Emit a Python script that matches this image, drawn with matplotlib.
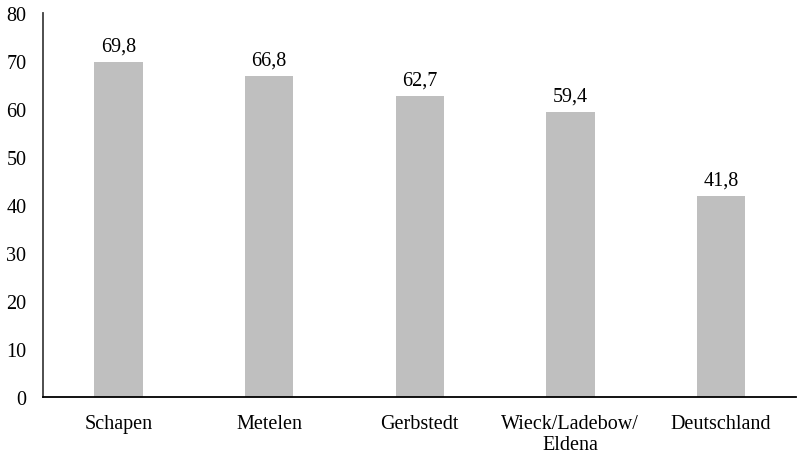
import matplotlib.pyplot as plt

plt.rcParams["font.family"] = ["Liberation Serif", "DejaVu Serif"]

categories = ["Schapen", "Metelen", "Gerbstedt", "Wieck/Ladebow/\nEldena", "Deutschland"]
values = [69.8, 66.8, 62.7, 59.4, 41.8]
value_labels = ["69,8", "66,8", "62,7", "59,4", "41,8"]
yticks = [0, 10, 20, 30, 40, 50, 60, 70, 80]

fig = plt.figure(figsize=(7.98, 4.56), dpi=100)
ax = fig.add_axes([0.054, 0.127, 0.944, 0.842])

x = range(len(categories))
bars = ax.bar(x, values, width=0.32, color="#BFBFBF")
for b, lab in zip(bars, value_labels):
    ax.annotate(lab, (b.get_x() + b.get_width() / 2, b.get_height()),
                xytext=(0, 5), textcoords="offset points",
                ha="center", va="bottom", fontsize=14.5)

ax.set_xlim(-0.5, len(categories) - 0.5)
ax.set_ylim(0, 80)
ax.set_yticks(yticks)
ax.set_xticks(list(x))
ax.set_xticklabels(categories, fontsize=14.5, linespacing=1.15)
ax.tick_params(axis="y", length=0, labelsize=14.5, pad=12)
ax.tick_params(axis="x", length=0, pad=12)
for s in ["top", "right"]:
    ax.spines[s].set_visible(False)
ax.spines["left"].set_color("#404040")
ax.spines["bottom"].set_color("black")
ax.spines["left"].set_linewidth(1.3)
ax.spines["bottom"].set_linewidth(1.3)

fig.savefig("out.png", dpi=100)
